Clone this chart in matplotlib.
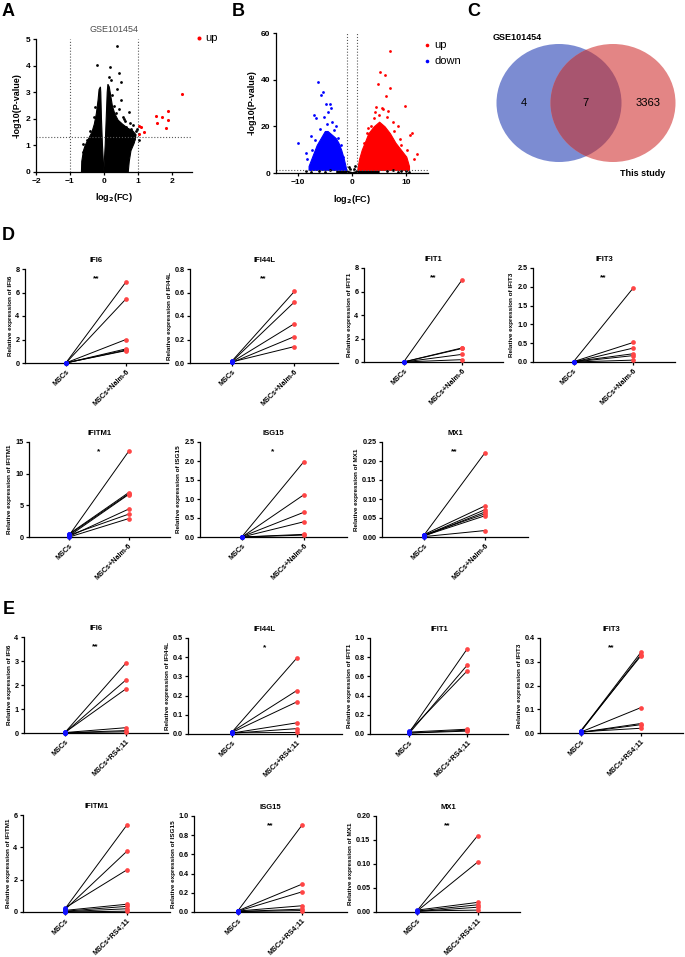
import matplotlib
matplotlib.use("Agg")
import matplotlib.pyplot as plt
from matplotlib.patches import Ellipse
import numpy as np

plt.rcParams["font.family"] = ["Liberation Sans", "DejaVu Sans"]

W, H = 685, 957

# ---- panel A: GSE101454 volcano ----
A_UP_X = [2.30, 1.89, 1.54, 1.71, 1.88, 1.58, 1.83, 1.18, 1.04, 1.05, 1.10]
A_UP_Y = [2.94, 2.31, 2.12, 2.07, 1.97, 1.84, 1.64, 1.49, 1.42, 1.72, 1.68]
A_NS_X = [0.39, -0.21, 0.17, 0.46, 0.50, 0.40, 0.14, 0.73, 0.51, 0.62, 0.85, 0.95,
          0.90, 0.70, -0.45, -0.55, -0.60, 0.30, 0.35, 0.80, 1.05, -0.35, 0.60, 0.25,
          0.98, 0.88, 0.76, 0.66, 0.58, 0.45, -0.25, -0.30, -0.40, -0.50, -0.62, 0.20]
A_NS_Y = [4.72, 4.04, 3.96, 3.72, 3.40, 3.12, 3.57, 2.26, 2.72, 1.90, 1.75, 1.55,
          1.25, 1.45, 1.15, 0.85, 0.75, 2.50, 2.20, 1.60, 1.20, 1.30, 2.00, 2.90,
          1.62, 1.35, 1.85, 1.70, 2.05, 2.35, 2.45, 2.05, 1.55, 1.20, 1.05, 3.45]
# outline of the dense cloud of non-significant genes
A_LEFT_X = [0.0, -0.01, -0.04, -0.07, -0.09, -0.10, -0.14, -0.17, -0.22, -0.28,
            -0.35, -0.45, -0.55, -0.60, -0.65, -0.66]
A_LEFT_Y = [0.0, 0.3, 1.0, 2.0, 3.0, 3.2, 3.1, 2.7, 2.2, 1.8, 1.5, 1.25, 1.0, 0.8, 0.4, 0.0]
A_RIGHT_X = [0.0, 0.01, 0.04, 0.07, 0.10, 0.12, 0.16, 0.20, 0.25, 0.32, 0.42, 0.55,
             0.70, 0.85, 0.95, 0.90, 0.80, 0.75, 0.72]
A_RIGHT_Y = [0.0, 0.3, 1.0, 2.0, 3.0, 3.3, 3.2, 2.9, 2.5, 2.2, 1.95, 1.8,
             1.65, 1.55, 1.4, 1.1, 0.8, 0.4, 0.0]

# ---- panel B: this study volcano ----
B_UP_CORE_X = [1.0, 1.3, 1.8, 2.5, 3.0, 4.0, 5.0, 6.0, 7.0, 8.0, 9.0, 10.0, 10.5]
B_UP_CORE_Y = [2, 6, 10, 14, 17, 20, 22, 20, 17, 13, 10, 7, 3]
B_DOWN_CORE_X = [-8.0, -7.5, -7.0, -6.5, -6.0, -5.5, -5.0, -4.5, -4.0, -3.5, -3.0, -2.5, -2.0, -1.5, -1.1]
B_DOWN_CORE_Y = [3, 6, 9, 12, 14, 16, 18, 18, 17, 16, 15, 13, 10, 6, 2]
B_UP_X = [6.95, 5.2, 6.0, 4.8, 7.0, 6.2, 9.7, 10.7, 11.1, 9.6, 4.5, 5.5, 5.8, 4.2, 8.5,
          7.5, 3.5, 6.6, 9.0, 3.0, 2.2, 7.8, 8.8, 10.2, 4.0, 5.0, 6.4, 2.8, 11.5, 12.0]
B_UP_Y = [52.1, 43.1, 41.8, 38.2, 36.5, 32.8, 28.8, 16.2, 17.0, 5.0, 28.5, 28.0, 27.5, 26.0, 20.0,
          22.0, 20.0, 26.5, 12.0, 19.5, 13.0, 18.0, 14.5, 10.0, 23.5, 25.0, 24.0, 17.0, 6.0, 8.0]
B_DOWN_X = [-6.2, -5.4, -5.7, -9.9, -8.5, -4.1, -4.8, -6.95, -6.6, -3.9, -5.2, -7.6, -4.4, -3.0,
            -8.2, -2.5, -2.0, -3.4, -5.9, -6.8, -4.6, -7.3, -1.6, -3.7]
B_DOWN_Y = [39.0, 34.8, 33.5, 12.7, 8.7, 29.7, 29.5, 25.0, 23.5, 28.0, 24.0, 16.0, 26.0, 20.0,
            6.0, 15.0, 12.0, 18.5, 19.0, 14.0, 21.0, 10.0, 7.0, 22.0]
B_NS_X = [-8.5, -7.5, -6.0, -5.0, -4.0, 6.5, 7.5, 8.5, 9.0, 10.0, 10.5, -0.6, 0.6, -0.3, 0.3]
B_NS_Y = [1.0, 0.6, 0.9, 0.5, 1.1, 0.8, 1.2, 0.4, 1.0, 0.9, 0.5, 2.5, 2.8, 1.6, 1.9]

# ---- panel C: Venn counts ----
VENN_SETS = ["GSE101454", "This study"]
VENN_COUNTS = [4, 7, 3363]

GENES_ROW1 = ["IFI6", "IFI44L", "IFIT1", "IFIT3"]
GENES_ROW2 = ["IFITM1", "ISG15", "MX1"]

# ---- panel D: MSCs vs MSCs+Nalm-6 ----
D_IFI6_MSC = [0.01, 0.0, 0.01, 0.0, 0.0, 0.01]
D_IFI6_CO = [6.9, 5.45, 2.0, 1.2, 1.1, 1.05]
D_IFI44L_MSC = [0.02, 0.015, 0.01, 0.005, 0.01]
D_IFI44L_CO = [0.61, 0.52, 0.335, 0.225, 0.14]
D_IFIT1_MSC = [0.01, 0.01, 0.0, 0.0, 0.0]
D_IFIT1_CO = [7.0, 1.2, 1.15, 0.65, 0.2]
D_IFIT3_MSC = [0.01, 0.01, 0.0, 0.01, 0.0, 0.0]
D_IFIT3_CO = [1.97, 0.52, 0.37, 0.22, 0.17, 0.05]
D_IFITM1_MSC = [0.3, 0.5, 0.4, 0.2, 0.1, 0.3, 0.0]
D_IFITM1_CO = [13.5, 7.0, 6.8, 6.7, 4.4, 3.6, 2.9]
D_ISG15_MSC = [0.01, 0.0, 0.01, 0.0, 0.0, 0.0]
D_ISG15_CO = [1.98, 1.11, 0.65, 0.40, 0.07, 0.05]
D_MX1_MSC = [0.004, 0.006, 0.003, 0.002, 0.005, 0.003, 0.001]
D_MX1_CO = [0.222, 0.082, 0.072, 0.066, 0.061, 0.056, 0.017]
D_STARS = ["**", "**", "**", "**", "*", "*", "**"]

# ---- panel E: MSCs vs MSCs+RS4;11 ----
E_IFI6_MSC = [0.03, 0.02, 0.03, 0.02, 0.01, 0.01]
E_IFI6_CO = [2.9, 2.2, 1.83, 0.22, 0.1, 0.05]
E_IFI44L_MSC = [0.01, 0.012, 0.008, 0.005, 0.004, 0.006]
E_IFI44L_CO = [0.395, 0.226, 0.167, 0.058, 0.028, 0.008]
E_IFIT1_MSC = [0.02, 0.01, 0.03, 0.02, 0.01, 0.01]
E_IFIT1_CO = [0.89, 0.72, 0.66, 0.05, 0.04, 0.03]
E_IFIT3_MSC = [0.008, 0.006, 0.01, 0.004, 0.003, 0.002, 0.005]
E_IFIT3_CO = [0.34, 0.33, 0.325, 0.107, 0.04, 0.035, 0.02]
E_IFITM1_MSC = [0.2, 0.15, 0.25, 0.1, 0.05, 0.02, 0.0]
E_IFITM1_CO = [5.37, 3.75, 2.6, 0.48, 0.35, 0.2, 0.05]
E_ISG15_MSC = [0.01, 0.012, 0.008, 0.01, 0.005, 0.004]
E_ISG15_CO = [0.905, 0.29, 0.21, 0.065, 0.03, 0.015]
E_MX1_MSC = [0.003, 0.002, 0.004, 0.002, 0.001, 0.002]
E_MX1_CO = [0.159, 0.104, 0.02, 0.015, 0.01, 0.004]
E_STARS = ["**", "*", "", "**", "", "**", "**"]

# y-axis maximum and tick step for each small panel
D_YMAX = [8, 0.8, 8, 2.5, 15, 2.5, 0.25]
D_YSTEP = [2, 0.2, 2, 0.5, 5, 0.5, 0.05]
E_YMAX = [4, 0.5, 1.0, 0.4, 6, 1.0, 0.20]
E_YSTEP = [1, 0.1, 0.2, 0.1, 2, 0.2, 0.05]


def px_axes(fig, left, top, right, bottom):
    return fig.add_axes([left / W, 1 - bottom / H, (right - left) / W, (bottom - top) / H])


def style_axes(ax, size=5.5):
    for s in ("top", "right"):
        ax.spines[s].set_visible(False)
    for s in ("left", "bottom"):
        ax.spines[s].set_linewidth(0.9)
    ax.tick_params(width=0.9, length=2.5, labelsize=size, pad=1.5)
    for t in ax.get_xticklabels() + ax.get_yticklabels():
        t.set_fontweight("bold")


def paired(ax, gene, msc, co, star, ymax, ystep, partner):
    for a, b in zip(msc, co):
        ax.plot([0, 1], [a, b], color="black", lw=0.7, zorder=2)
    ax.plot(np.zeros(len(msc)), msc, "o", color="#1010ff", ms=3.4, mew=0, clip_on=False, zorder=3)
    ax.plot(np.ones(len(co)), co, "o", color="#ff4545", ms=3.4, mew=0, clip_on=False, zorder=3)
    ax.set_xlim(-0.68, 1.7)
    ax.set_ylim(0, ymax)
    ax.set_yticks(np.arange(0, ymax + ystep / 2, ystep))
    ax.set_xticks([0, 1])
    ax.set_xticklabels(["MSCs", "MSCs+" + partner], rotation=45, ha="right",
                       va="top", rotation_mode="anchor")
    style_axes(ax, 5.2)
    ax.set_title(gene, fontsize=5.5, fontweight="bold", pad=5)
    ax.set_ylabel("Relative expression of " + gene, fontsize=4.6, fontweight="bold", labelpad=2)
    if star:
        ax.text(0.5, 0.9 * ymax, star, ha="center", va="center", fontsize=6, fontweight="bold")


fig = plt.figure(figsize=(W / 100, H / 100), dpi=100)

# panel A
axA = px_axes(fig, 36, 39, 192, 172)
axA.fill(A_LEFT_X, A_LEFT_Y, color="black", lw=0.8)
axA.fill(A_RIGHT_X, A_RIGHT_Y, color="black", lw=0.8)
axA.scatter(A_NS_X, A_NS_Y, s=4, c="black", lw=0)
axA.scatter(A_UP_X, A_UP_Y, s=5, c="red", lw=0, label="up")
for v in (-1, 1):
    axA.axvline(v, ls=":", color="0.35", lw=0.8)
axA.axhline(1.3, ls=":", color="0.35", lw=0.8)
axA.set_xlim(-2, 2.6)
axA.set_ylim(0, 5)
axA.set_xticks([-2, -1, 0, 1, 2])
axA.set_yticks([0, 1, 2, 3, 4, 5])
style_axes(axA, 6)
axA.set_title("GSE101454", fontsize=6.5, color="0.3", pad=5)
axA.set_xlabel(r"log$_\mathbf{2}$(FC)", fontsize=6.5, fontweight="bold", labelpad=5)
axA.set_ylabel("-log10(P-value)", fontsize=6.5, fontweight="bold", labelpad=3)
axA.legend(loc="upper left", bbox_to_anchor=(0.98, 1.08), frameon=False, fontsize=8,
           handletextpad=0.1, handlelength=1.0, markerscale=1.3, borderaxespad=0)

# panel B
axB = px_axes(fig, 276, 33, 428, 173)
axB.fill_between([-3.0, -1.0, 0.0, 1.0, 5.0], 0, [1.3, 1.3, 0.6, 1.3, 1.3], color="black", lw=0)
axB.fill_between(B_DOWN_CORE_X, 1.3, B_DOWN_CORE_Y, color="#0000ff", lw=0.8)
axB.fill_between(B_UP_CORE_X, 1.3, B_UP_CORE_Y, color="#ff0000", lw=0.8)
axB.scatter(B_NS_X, B_NS_Y, s=4, c="black", lw=0)
axB.scatter(B_UP_X, B_UP_Y, s=4, c="#ff0000", lw=0, label="up")
axB.scatter(B_DOWN_X, B_DOWN_Y, s=4, c="#0000ff", lw=0, label="down")
for v in (-1, 1):
    axB.axvline(v, ls=":", color="0.35", lw=0.8)
axB.axhline(1.3, ls=":", color="0.35", lw=0.8)
axB.set_xlim(-14, 14)
axB.set_ylim(0, 60)
axB.set_xticks([-10, 0, 10])
axB.set_yticks([0, 20, 40, 60])
style_axes(axB, 6)
axB.set_xlabel(r"log$_\mathbf{2}$(FC)", fontsize=6.5, fontweight="bold", labelpad=5)
axB.set_ylabel("-log10(P-value)", fontsize=6.5, fontweight="bold", labelpad=3)
axB.legend(loc="upper left", bbox_to_anchor=(0.93, 0.98), frameon=False, fontsize=8,
           handletextpad=0.1, handlelength=1.0, markerscale=1.3, borderaxespad=0,
           labelspacing=0.5)

# panel C
axC = px_axes(fig, 460, 0, 685, 200)
axC.set_xlim(460, 685)
axC.set_ylim(200, 0)
axC.axis("off")
blue = Ellipse((559, 103), 125, 118, facecolor="#7c8cd2", edgecolor="none")
red = Ellipse((613, 103), 125, 118, facecolor="#e38585", edgecolor="none")
axC.add_patch(blue)
axC.add_patch(red)
lens = Ellipse((559, 103), 125, 118, facecolor="#a8556f", edgecolor="none")
axC.add_patch(lens)
lens.set_clip_path(red)
for xx, n in zip([524, 585, 648], VENN_COUNTS):
    axC.text(xx, 103, str(n), ha="center", va="center", fontsize=8)
axC.text(517, 37, VENN_SETS[0], ha="center", va="center", fontsize=6.5, fontweight="bold")
axC.text(643, 173, VENN_SETS[1], ha="center", va="center", fontsize=6.5, fontweight="bold")

# panels D and E
D_DATA = [(D_IFI6_MSC, D_IFI6_CO), (D_IFI44L_MSC, D_IFI44L_CO), (D_IFIT1_MSC, D_IFIT1_CO),
          (D_IFIT3_MSC, D_IFIT3_CO), (D_IFITM1_MSC, D_IFITM1_CO), (D_ISG15_MSC, D_ISG15_CO),
          (D_MX1_MSC, D_MX1_CO)]
E_DATA = [(E_IFI6_MSC, E_IFI6_CO), (E_IFI44L_MSC, E_IFI44L_CO), (E_IFIT1_MSC, E_IFIT1_CO),
          (E_IFIT3_MSC, E_IFIT3_CO), (E_IFITM1_MSC, E_IFITM1_CO), (E_ISG15_MSC, E_ISG15_CO),
          (E_MX1_MSC, E_MX1_CO)]

D_BOXES = [(25, 269, 168, 363), (190, 269, 338, 363), (364, 268, 503, 362), (533, 268, 675, 362),
           (29, 442, 170, 537), (200, 442, 347, 537), (382, 442, 528, 537)]
E_BOXES = [(24, 637, 168, 733), (188, 638, 342, 734), (370, 638, 508, 734), (540, 638, 683, 733),
           (23, 815, 170, 912), (194, 816, 347, 912), (376, 816, 520, 912)]

genes = GENES_ROW1 + GENES_ROW2
for i, g in enumerate(genes):
    ax = px_axes(fig, *D_BOXES[i])
    paired(ax, g, D_DATA[i][0], D_DATA[i][1], D_STARS[i], D_YMAX[i], D_YSTEP[i], "Nalm-6")
    ax = px_axes(fig, *E_BOXES[i])
    paired(ax, g, E_DATA[i][0], E_DATA[i][1], E_STARS[i], E_YMAX[i], E_YSTEP[i], "RS4;11")

for letter, x, y in [("A", 8, 12), ("B", 238, 12), ("C", 474, 12), ("D", 8, 236), ("E", 9, 610)]:
    fig.text(x / W, 1 - y / H, letter, fontsize=13, fontweight="bold", ha="center", va="center")

fig.savefig("out.png", dpi=100)
